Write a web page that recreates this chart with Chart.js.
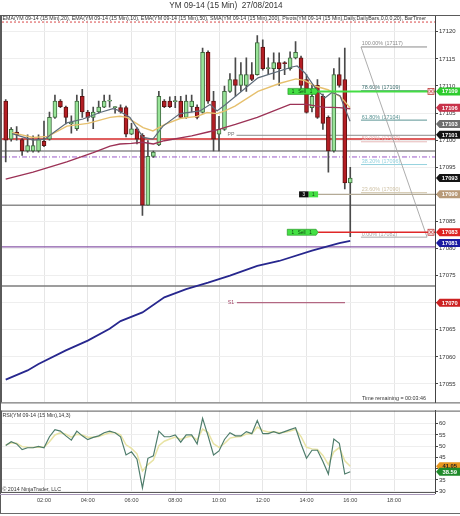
<!DOCTYPE html>
<html>
<head>
<meta charset="utf-8">
<title>YM 09-14 (15 Min) 27/08/2014</title>
<script src="https://cdn.jsdelivr.net/npm/chart.js@4.4.1/dist/chart.umd.min.js"></script>
<style>
  html, body { margin:0; padding:0; background:#fff; }
  #wrap { position:relative; width:460px; height:516px; overflow:hidden; background:#fff; }
  #title { position:absolute; top:1px; left:0; width:452px; text-align:center; font:8.2px "Liberation Sans", Arial, sans-serif; color:#333; white-space:pre; }
  canvas { position:absolute; left:0; }
  #main { top:0; }
  #rsi { top:406px; }
</style>
</head>
<body>
<div id="wrap">
  <canvas id="main" width="460" height="407" style="width:460px;height:407px"></canvas>
  <canvas id="rsi" width="460" height="110" style="width:460px;height:110px"></canvas>
  <div id="title">YM 09-14 (15 Min)  27/08/2014</div>
</div>
<script>
// ---------------- DATA ----------------
const opens  = [17107.2,17100.2,17101.5,17100.1,17098,17098,17098,17099.8,17100.2,17104.2,
                17107.2,17106.1,17103,17102.1,17108.1,17105.2,17104.2,17105.2,17106.1,17107.2,
                17106,17106,17106,17101.1,17102.1,17100.9,17088,17097,17099.1,17107.2,
                17107.2,17107.1,17107.2,17104.2,17106.2,17106.1,17105.1,17116.2,17107.2,17101.1,
                17102,17109,17111.2,17110.1,17110.1,17112.1,17112.1,17117.2,17113.2,17113.2,
                17114.3,17114.3,17113.2,17115.2,17115.2,17111.2,17106,17110.1,17108.1,17104.2,
                17098,17112.1,17111.2,17092.1];
const highs  = [17107.5,17102.3,17102.5,17100.3,17101,17100.8,17101,17103.5,17105.2,17108.3,
                17107.5,17106.3,17104.5,17108.3,17109.4,17105.5,17106.1,17107.2,17108.3,17108.3,
                17106.2,17106.5,17106.3,17103.1,17102.3,17101.2,17099.9,17098,17109,17107.5,
                17108,17108.1,17108.1,17108.3,17108.3,17106.5,17117,17116.5,17109,17104.4,
                17110,17112.3,17115.2,17114.3,17115.2,17114.3,17119.3,17118.5,17115.2,17116.1,
                17116.1,17114.5,17116.3,17118.2,17115.5,17112.1,17110.1,17111.2,17108.5,17104.5,
                17113.2,17115.2,17117,17095];
const lows   = [17096,17099.8,17100,17097.2,17097.8,17097.8,17097.8,17098.8,17100,17104,
                17106,17103,17101.3,17101.8,17104.2,17103.5,17102.1,17105,17106,17106.1,
                17105,17105,17100.6,17101,17099.3,17086.1,17088,17096.8,17099,17106,
                17106,17106,17104,17104,17105.2,17103.9,17105,17106.8,17098,17098,
                17101.8,17108.8,17108.1,17109,17109,17111,17112,17112.9,17112.1,17111.2,
                17110.1,17112.1,17112.9,17115,17109.5,17105,17105.2,17104,17102,17094.1,
                17097.8,17109.8,17091,17082.2];
const closes = [17100,17102,17101,17098,17099,17099,17100.1,17099,17104.2,17107.2,
                17106.2,17104.2,17103.3,17107.2,17105.2,17104.2,17105.2,17106.1,17107.2,17107.3,
                17106.1,17105.2,17101.1,17102.1,17100.2,17088,17097,17097.8,17108.1,17106.2,
                17106.2,17107.2,17104.2,17107.2,17107.2,17104.2,17116.2,17107.2,17100.2,17102,
                17109,17111.2,17110.1,17112.1,17112.1,17111.2,17118,17113.2,17113.3,17114.3,
                17113.2,17114.1,17115.2,17116.2,17110.1,17105.1,17108.1,17104.2,17103.1,17098,
                17112.1,17110.1,17092.1,17093];

// moving averages: [hour, price]
const ema10Pts  = [[0.54,17101.2],[1.5,17100],[2.05,17100.2],[2.27,17100.9],[3.05,17103.2],[3.78,17103.9],[4.56,17105.1],[5.15,17105.8],[5.34,17105.6],[5.93,17104.2],[6.53,17100.5],[6.98,17100.2],[7.44,17102.6],[8.22,17104.9],[9.13,17105.4],[9.59,17106.6],[9.91,17105.4],[10.27,17106.5],[10.73,17108],[11.78,17111.5],[13.34,17113.5],[13.57,17113.7],[13.93,17112.4],[14.39,17109.7],[14.84,17107.8],[15.16,17108.8],[15.53,17108.2],[15.99,17103.5]];
const ema20Pts  = [[0.54,17101.4],[1.5,17100.5],[2.18,17100.7],[3.05,17102.6],[4.01,17103.1],[5.02,17104.2],[5.47,17104.4],[5.79,17104.2],[6.53,17102.3],[6.98,17101.7],[7.53,17102.9],[8.22,17104],[9.0,17104.4],[9.45,17105.1],[9.91,17104.9],[10.27,17105.4],[10.73,17106.3],[11.78,17109],[12.79,17110.5],[13.52,17111.3],[13.93,17111],[14.39,17110],[14.98,17109.3],[15.53,17108.1],[15.99,17106]];
const ema50Pts  = [[0.25,17092.8],[1.5,17094.1],[3.04,17096],[4.25,17097.7],[5.02,17098.9],[5.47,17099.3],[6.0,17099.4],[6.5,17099.6],[7.0,17099.3],[7.5,17099.9],[8.75,17100.8],[9.5,17101.5],[10.0,17102],[10.25,17102.3],[10.75,17102.9],[11.75,17104.2],[13.25,17106.6],[14.0,17106.6],[14.75,17106.1],[15.5,17106],[16.0,17105.8]];
const sma200Pts = [[0.25,17055.8],[1.25,17057.5],[1.75,17058.7],[3.0,17061.2],[4.0,17063],[5.0,17065.2],[5.5,17066.6],[6.5,17068.2],[7.5,17071],[8.5,17072.5],[9.5,17073.7],[10.5,17075],[11.75,17076.8],[12.75,17077.7],[14.25,17079.6],[15.5,17081],[16.0,17081.4]];

const rsiVals = [50.3,52,51,48.5,49.3,49.3,49.9,49.3,54.2,57.4,
                 56.7,54.6,52.7,56.7,54.6,52.9,53.9,54.6,56,56.7,
                 56,54.2,46.1,47.5,44.2,31.4,44.6,45.7,56.7,54.2,
                 54.2,55,51.8,55,55,51,62.4,54.6,46.1,47.9,
                 53,56,54.6,54.6,56.5,55.6,61.4,55.6,55.6,56.5,
                 55.6,56.5,57.4,58.2,51,44.6,48.2,48.2,43.2,37.6,
                 53.2,51.3,37.6,38.59];
const rsiAvg  = [50.5,51.5,51.3,49.8,49.5,49.4,49.6,49.5,52,55,
                 56,55.3,54,55.3,55,54,54,54.3,55.2,56,
                 56,55.1,50.6,49,46.6,39,41.8,43.8,50.2,52.2,
                 53.2,54.1,53,54,54.5,52.8,57.6,56.1,51.1,49.5,
                 51.2,53.6,54.1,54.3,55.4,55.5,58.5,57,56.3,56.4,
                 56,56.2,56.8,57.5,54.3,49.5,48.8,48.5,45.9,41.8,
                 47.5,49.4,43.5,41.05];

const priceTicks = [17055,17060,17065,17070,17075,17080,17085,17090,17095,17100,17105,17110,17115,17120];
const rsiTicks   = [30,35,40,45,50,55,60];
const timeTicks  = [2,4,6,8,10,12,14,16,18];
const timeLabels = ['02:00','04:00','06:00','08:00','10:00','12:00','14:00','16:00','18:00'];

// horizontal levels (full width)
const levelValues = [17121.8, 17100.2, 17098, 17096.9, 17088, 17080.3, 17073.1];
const ppValue = 17100.9, s1Value = 17070;
const fibValues = [17117.2, 17109.1, 17103.7, 17099.7, 17095.5, 17090.3, 17082.1];
const fibLabels = ['100.00% (17117)','78.60% (17109)','61.80% (17104)','50.00% (17100)','38.20% (17096)','23.60% (17090)','0.00% (17082)'];
const sellEntry = 17109, stopLevel = 17083, targetLevel = 17090;
const markerValues = [17109, 17106, 17103, 17101, 17093, 17090, 17083, 17081, 17070];
const rsiMarkerValues = [41.05, 38.59];

const barTimes = opens.map((_, i) => 0.25 * (i + 1)); // hours after midnight

// ---------------- STYLES / LAYOUT ----------------
const FONT = '"Liberation Sans", Arial, sans-serif';
const X_MIN = 0.08, X_MAX = 19.874;
const P_MIN = 17051.6, P_MAX = 17123.1;
const R_MIN = 29.15, R_MAX = 65.85;
const levelStyles = [
  {c:'#d84848', w:1, d:[2,2]},
  {c:'#d42a2a', w:1.5},
  {c:'#8c8c8c', w:1.5},
  {c:'#9a58c8', w:1, d:[5,2,1,2]},
  {c:'#8c8c8c', w:1.5},
  {c:'#8a5aa8', w:1.2},
  {c:'#7c7c7c', w:1.5}
];
const fibColors = ['#8a8a8a','#3c6e6e','#5a9494','#e6b8b8','#94d2de','#cfc2a6','#a8a8a8'];
const markerColors = [['#2ecc2e','#fff'],['#c8324a','#fff'],['#6e6e6e','#fff'],['#141414','#fff'],['#141414','#fff'],['#b89a78','#fff'],['#dd2222','#fff'],['#1a1aa0','#fff'],['#cc2222','#fff']];
const rsiMarkerColors = [['#e8961e','#222'],['#1f8a2a','#fff']];

const up = i => closes[i] >= opens[i];
const toXY = pts => pts.map(p => ({x: p[0], y: p[1]}));

function hline(ctx, x0, x1, yy, color, w, dash) {
  ctx.save(); ctx.strokeStyle = color; ctx.lineWidth = w; ctx.setLineDash(dash || []);
  ctx.beginPath(); ctx.moveTo(x0, yy); ctx.lineTo(x1, yy); ctx.stroke(); ctx.restore();
}
function txt(ctx, s, x, y, size, color, align, bold) {
  ctx.save(); ctx.font = (bold ? 'bold ' : '') + size + 'px ' + FONT; ctx.fillStyle = color;
  ctx.textAlign = align || 'left'; ctx.textBaseline = 'middle'; ctx.fillText(s, x, y); ctx.restore();
}
function axisBox(ctx, a, yy, bg, fg, s) {
  const x0 = a.right + 1, x1 = 460, h = 8;
  ctx.save(); ctx.fillStyle = bg; ctx.beginPath();
  ctx.moveTo(x0, yy); ctx.lineTo(x0 + 3.5, yy - h / 2); ctx.lineTo(x1, yy - h / 2);
  ctx.lineTo(x1, yy + h / 2); ctx.lineTo(x0 + 3.5, yy + h / 2); ctx.closePath(); ctx.fill(); ctx.restore();
  txt(ctx, s, (x0 + 3.5 + x1) / 2, yy + 0.5, 5.8, fg, 'center', true);
}
function xBox(ctx, cx, cy) {
  ctx.save(); ctx.fillStyle = '#f6e4e4'; ctx.strokeStyle = '#c03a3a'; ctx.lineWidth = 0.8;
  ctx.fillRect(cx - 3, cy - 3, 6, 6); ctx.strokeRect(cx - 3, cy - 3, 6, 6);
  ctx.beginPath(); ctx.moveTo(cx - 1.8, cy - 1.8); ctx.lineTo(cx + 1.8, cy + 1.8);
  ctx.moveTo(cx + 1.8, cy - 1.8); ctx.lineTo(cx - 1.8, cy + 1.8); ctx.stroke(); ctx.restore();
}
function tag(ctx, x0, x1, cy, fill, label, fg) {
  ctx.save(); ctx.fillStyle = fill; ctx.strokeStyle = '#1c8a1c'; ctx.lineWidth = 0.6;
  ctx.beginPath(); ctx.moveTo(x0, cy - 3); ctx.lineTo(x1 - 2, cy - 3); ctx.lineTo(x1, cy);
  ctx.lineTo(x1 - 2, cy + 3); ctx.lineTo(x0, cy + 3); ctx.closePath(); ctx.fill(); ctx.stroke(); ctx.restore();
  txt(ctx, label, (x0 + x1) / 2 - 1, cy + 0.3, 4.6, fg, 'center');
}

const mainOverlay = {
  id: 'mainOverlay',
  beforeDatasetsDraw(chart) {
    const {ctx, chartArea: a, scales: {x, y}} = chart;
    ctx.save();
    ctx.beginPath(); ctx.rect(a.left, a.top, a.right - a.left, a.bottom - a.top); ctx.clip();
    levelValues.forEach((v, i) => { const s = levelStyles[i]; hline(ctx, a.left, a.right, y.getPixelForValue(v), s.c, s.w, s.d); });
    hline(ctx, x.getPixelForValue(10.8), a.right, y.getPixelForValue(ppValue), '#8a8a8a', 1);
    hline(ctx, x.getPixelForValue(10.82), x.getPixelForValue(15.76), y.getPixelForValue(s1Value), '#a24466', 1);
    const f0 = x.getPixelForValue(16.49), f1 = x.getPixelForValue(19.51);
    fibValues.forEach((v, i) => hline(ctx, f0, f1, y.getPixelForValue(v), fibColors[i], 1));
    ctx.restore();
  },
  afterDatasetsDraw(chart) {
    const {ctx, chartArea: a, scales: {x, y}} = chart;
    // top indicator caption
    ctx.save(); ctx.font = '5.3px ' + FONT; ctx.fillStyle = '#333'; ctx.textBaseline = 'middle';
    ctx.fillText('EMA(YM 09-14 (15 Min),20), EMA(YM 09-14 (15 Min),10), EMA(YM 09-14 (15 Min),50), SMA(YM 09-14 (15 Min),200), Pivots(YM 09-14 (15 Min),Daily,DailyBars,0,0,0,20), BarTimer', 2.5, 19, 426);
    ctx.restore();
    // pivot labels
    txt(ctx, 'PP', x.getPixelForValue(10.55), y.getPixelForValue(ppValue) - 0.5, 5.2, '#777', 'center');
    txt(ctx, 'S1', x.getPixelForValue(10.55), y.getPixelForValue(s1Value), 5.2, '#a24466', 'center');
    // fib labels + diagonal
    const f0 = x.getPixelForValue(16.53);
    fibValues.forEach((v, i) => txt(ctx, fibLabels[i], f0, y.getPixelForValue(v) - 3, 5.4, fibColors[i], 'left'));
    ctx.save(); ctx.strokeStyle = '#a4a4a4'; ctx.lineWidth = 0.9; ctx.beginPath();
    ctx.moveTo(x.getPixelForValue(16.49), y.getPixelForValue(fibValues[0]));
    ctx.lineTo(x.getPixelForValue(19.51), y.getPixelForValue(fibValues[6])); ctx.stroke(); ctx.restore();
    // trade lines
    const tEnd = x.getPixelForValue(14.53);
    hline(ctx, tEnd, a.right, y.getPixelForValue(targetLevel), '#b4aa96', 1.2);
    hline(ctx, tEnd, a.right, y.getPixelForValue(sellEntry), '#44dd44', 2);
    hline(ctx, tEnd, a.right, y.getPixelForValue(stopLevel), '#e02828', 1.6);
    tag(ctx, x.getPixelForValue(13.15), tEnd, y.getPixelForValue(sellEntry), '#44e044', '1   Sell   1', '#0e3a0e');
    tag(ctx, x.getPixelForValue(13.12), tEnd, y.getPixelForValue(stopLevel), '#44e044', '1   Sell   1', '#0e3a0e');
    const ty = y.getPixelForValue(targetLevel), tx0 = x.getPixelForValue(13.66), txm = x.getPixelForValue(14.1);
    ctx.save(); ctx.fillStyle = '#111'; ctx.fillRect(tx0, ty - 3, txm - tx0, 6);
    ctx.fillStyle = '#44e044'; ctx.fillRect(txm, ty - 3, tEnd - txm, 6); ctx.restore();
    txt(ctx, '3', (tx0 + txm) / 2, ty + 0.3, 4.6, '#fff', 'center');
    txt(ctx, '1', (txm + tEnd) / 2, ty + 0.3, 4.6, '#0e3a0e', 'center');
    xBox(ctx, a.right - 4, y.getPixelForValue(sellEntry));
    xBox(ctx, a.right - 4, y.getPixelForValue(stopLevel));
    txt(ctx, 'Time remaining = 00:03:46', 362, 399, 5.4, '#333', 'left');
  },
  afterDraw(chart) {
    const {ctx, chartArea: a, scales: {y}} = chart;
    ctx.save(); ctx.strokeStyle = '#5a5a5a'; ctx.lineWidth = 1;
    ctx.beginPath(); ctx.moveTo(0, a.top + 0.5); ctx.lineTo(460, a.top + 0.5); ctx.stroke();
    ctx.beginPath(); ctx.moveTo(0.5, a.top); ctx.lineTo(0.5, 407); ctx.stroke();
    ctx.beginPath(); ctx.moveTo(1.5, a.top); ctx.lineTo(1.5, a.bottom); ctx.stroke();
    ctx.beginPath(); ctx.moveTo(0, a.bottom + 0.5); ctx.lineTo(460, a.bottom + 0.5); ctx.stroke();
    ctx.restore();
    markerValues.forEach((v, i) => axisBox(ctx, a, y.getPixelForValue(v), markerColors[i][0], markerColors[i][1], String(Math.round(v))));
  }
};

const rsiOverlay = {
  id: 'rsiOverlay',
  afterDatasetsDraw(chart) {
    const {ctx} = chart;
    txt(ctx, 'RSI(YM 09-14 (15 Min),14,3)', 2.5, 10, 5.3, '#333', 'left');
    txt(ctx, '\u00A9 2014 NinjaTrader, LLC', 2.5, 84, 5.3, '#333', 'left');
  },
  afterDraw(chart) {
    const {ctx, chartArea: a, scales: {y}} = chart;
    ctx.save(); ctx.lineWidth = 1;
    ctx.strokeStyle = '#5a5a5a';
    ctx.beginPath(); ctx.moveTo(0, a.top + 0.5); ctx.lineTo(460, a.top + 0.5); ctx.stroke();
    ctx.beginPath(); ctx.moveTo(0.5, 0); ctx.lineTo(0.5, 108); ctx.stroke();
    ctx.beginPath(); ctx.moveTo(1.5, a.top); ctx.lineTo(1.5, a.bottom); ctx.stroke();
    ctx.beginPath(); ctx.moveTo(0, a.bottom - 0.5); ctx.lineTo(a.right, a.bottom - 0.5); ctx.stroke();
    ctx.strokeStyle = '#a898b8';
    ctx.beginPath(); ctx.moveTo(0, a.bottom + 1.5); ctx.lineTo(a.right, a.bottom + 1.5); ctx.stroke();
    ctx.strokeStyle = '#6a6a6a';
    ctx.beginPath(); ctx.moveTo(0, 107.5); ctx.lineTo(460, 107.5); ctx.stroke();
    ctx.restore();
    rsiMarkerValues.forEach((v, i) => axisBox(ctx, a, y.getPixelForValue(v), rsiMarkerColors[i][0], rsiMarkerColors[i][1], v.toFixed(2)));
  }
};

Chart.defaults.font.family = FONT;

new Chart(document.getElementById('main'), {
  type: 'bar',
  data: {
    datasets: [
      {type: 'line', data: toXY(ema10Pts), borderColor: '#5e6c7a', borderWidth: 1.2, pointRadius: 0, order: 0},
      {type: 'line', data: toXY(ema20Pts), borderColor: '#e6c06e', borderWidth: 1.4, pointRadius: 0, order: 0},
      {type: 'line', data: toXY(ema50Pts), borderColor: '#9c3256', borderWidth: 1.4, pointRadius: 0, order: 0},
      {type: 'line', data: toXY(sma200Pts), borderColor: '#27278e', borderWidth: 1.8, pointRadius: 0, order: 0},
      {type: 'bar', data: barTimes.map((t, i) => ({x: t, y: [opens[i], closes[i]]})),
        backgroundColor: barTimes.map((t, i) => up(i) ? '#98e498' : '#b41e24'),
        borderColor: barTimes.map((t, i) => up(i) ? '#3f6b3f' : '#5e1212'),
        borderWidth: 1, borderSkipped: false, barThickness: 4, minBarLength: 1, grouped: false, order: 1},
      {type: 'bar', data: barTimes.map((t, i) => ({x: t, y: [lows[i], highs[i]]})),
        backgroundColor: '#4a4a4a', barThickness: 1, grouped: false, order: 2}
    ]
  },
  options: {
    responsive: false, animation: false, devicePixelRatio: 1, events: [],
    layout: {padding: {top: 15, left: 2, right: 0, bottom: 1}},
    plugins: {legend: {display: false}, tooltip: {enabled: false}, title: {display: false}},
    scales: {
      x: {type: 'linear', min: X_MIN, max: X_MAX, offset: false,
          afterBuildTicks: s => { s.ticks = timeTicks.map(v => ({value: v})); },
          afterFit: s => { s.height = 0; },
          ticks: {display: false}, grid: {color: '#e6e6e6', drawTicks: false, offset: false}, border: {display: false}},
      y: {position: 'right', min: P_MIN, max: P_MAX,
          afterBuildTicks: s => { s.ticks = priceTicks.map(v => ({value: v})); },
          afterFit: s => { s.width = 25; },
          ticks: {font: {size: 6}, color: '#333', padding: 1, callback: v => String(v)},
          grid: {color: '#eeeeee', tickLength: 3, tickColor: '#444'},
          border: {display: true, color: '#444'}}
    }
  },
  plugins: [mainOverlay]
});

new Chart(document.getElementById('rsi'), {
  type: 'line',
  data: {
    datasets: [
      {data: barTimes.map((t, i) => ({x: t, y: rsiVals[i]})), borderColor: '#4f7d6c', borderWidth: 1.2, pointRadius: 0},
      {data: barTimes.map((t, i) => ({x: t, y: rsiAvg[i]})), borderColor: '#e8e3a4', borderWidth: 1.5, pointRadius: 0}
    ]
  },
  options: {
    responsive: false, animation: false, devicePixelRatio: 1, events: [],
    layout: {padding: {top: 1, left: 2, right: 0, bottom: 0}},
    plugins: {legend: {display: false}, tooltip: {enabled: false}},
    scales: {
      x: {type: 'linear', min: X_MIN, max: X_MAX,
          afterBuildTicks: s => { s.ticks = timeTicks.map(v => ({value: v})); },
          afterFit: s => { s.height = 23; },
          ticks: {font: {size: 5.6}, color: '#444', padding: 4, maxRotation: 0, autoSkip: false,
                  callback: v => timeLabels[timeTicks.indexOf(v)] || ''},
          grid: {color: '#e6e6e6', drawTicks: false}, border: {display: false}},
      y: {position: 'right', min: R_MIN, max: R_MAX,
          afterBuildTicks: s => { s.ticks = rsiTicks.map(v => ({value: v})); },
          afterFit: s => { s.width = 25; },
          ticks: {font: {size: 6}, color: '#333', padding: 1, callback: v => String(v)},
          grid: {color: '#eeeeee', tickLength: 3, tickColor: '#444'},
          border: {display: true, color: '#444'}}
    }
  },
  plugins: [rsiOverlay]
});
</script>
</body>
</html>
